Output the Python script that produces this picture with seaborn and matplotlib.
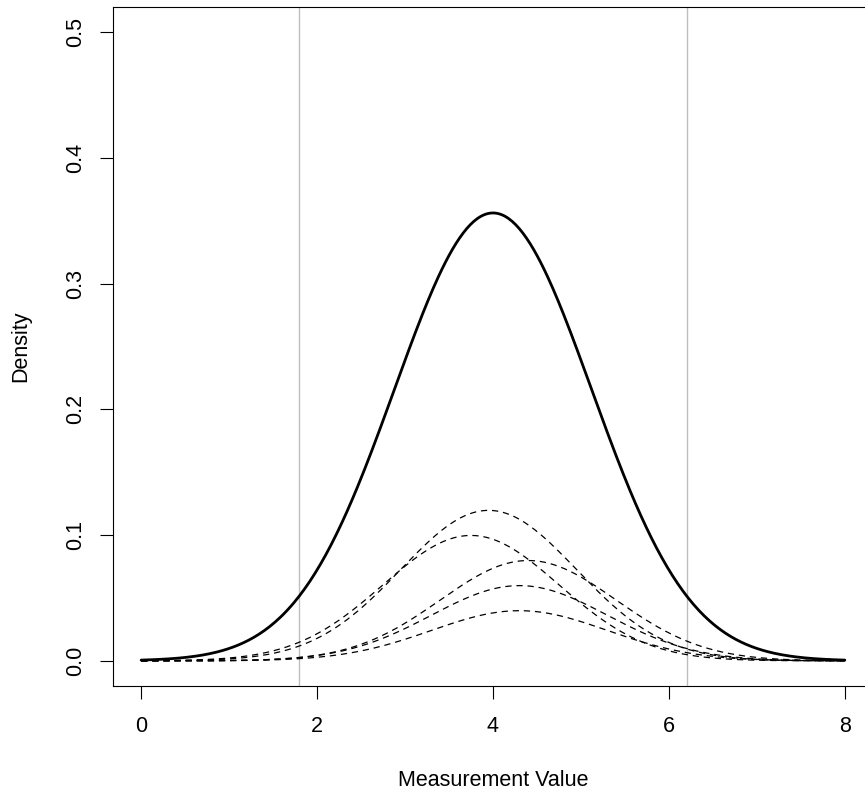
import numpy as np
import pandas as pd
import matplotlib
matplotlib.use("Agg")
import matplotlib.pyplot as plt
import seaborn as sns

# Dashed component densities (normal)
comp_means = [3.95, 3.75, 4.4, 4.3, 4.3]
comp_sds = [1.0, 1.0, 1.0, 1.0, 1.0]
comp_weights = [0.30, 0.25, 0.20, 0.15, 0.10]

# Solid pooled density
pooled_mean = 4.0
pooled_sd = 1.12

# Grey interval lines
interval = [1.8, 6.2]

x_ticks = [0, 2, 4, 6, 8]
y_ticks = [0.0, 0.1, 0.2, 0.3, 0.4, 0.5]


def npdf(x, m, s):
    return np.exp(-0.5 * ((x - m) / s) ** 2) / (s * np.sqrt(2 * np.pi))


xs = np.linspace(x_ticks[0], x_ticks[-1], 401)
rows = []
for i, (m, s, w) in enumerate(zip(comp_means, comp_sds, comp_weights)):
    rows.append(pd.DataFrame({"x": xs, "y": w * npdf(xs, m, s), "comp": i}))
comps = pd.concat(rows, ignore_index=True)
pooled = pd.DataFrame({"x": xs, "y": npdf(xs, pooled_mean, pooled_sd)})

sns.set_style("ticks")
plt.rcParams["font.family"] = ["Liberation Sans", "DejaVu Sans"]
plt.rcParams["lines.scale_dashes"] = False
plt.rcParams["text.color"] = "black"
plt.rcParams["axes.labelcolor"] = "black"

fig = plt.figure(figsize=(8.65, 7.93), dpi=100)
ax = fig.add_axes([113 / 865, 1 - 686 / 793, 760 / 865, 679 / 793])

for v in interval:
    ax.axvline(v, color="#BEBEBE", lw=1.0, zorder=1)

for i in range(len(comp_means)):
    sub = comps[comps["comp"] == i]
    sns.lineplot(data=sub, x="x", y="y", ax=ax, color="black", lw=0.9,
                 dashes=False, linestyle=(0, (4.5, 3.5)), zorder=2)

sns.lineplot(data=pooled, x="x", y="y", ax=ax, color="black", lw=2.0, zorder=3)

ax.set_xlim(-0.32, 8.32)
ax.set_ylim(-0.02, 0.52)
ax.set_xticks(x_ticks)
ax.set_xticklabels([str(t) for t in x_ticks])
ax.set_yticks(y_ticks)
ax.set_yticklabels([f"{t:.1f}" for t in y_ticks], rotation=90, va="center")
ax.tick_params(direction="out", length=9.5, width=0.8, labelsize=15.5,
               colors="black")
ax.tick_params(axis="x", pad=12)
ax.tick_params(axis="y", pad=10)
for sp in ax.spines.values():
    sp.set_visible(True)
    sp.set_color("black")
    sp.set_linewidth(0.8)

ax.set_xlabel("Measurement Value", fontsize=15.5, labelpad=23.5)
ax.set_ylabel("Density", fontsize=15.5, labelpad=24)

fig.savefig("out.png", dpi=100)
